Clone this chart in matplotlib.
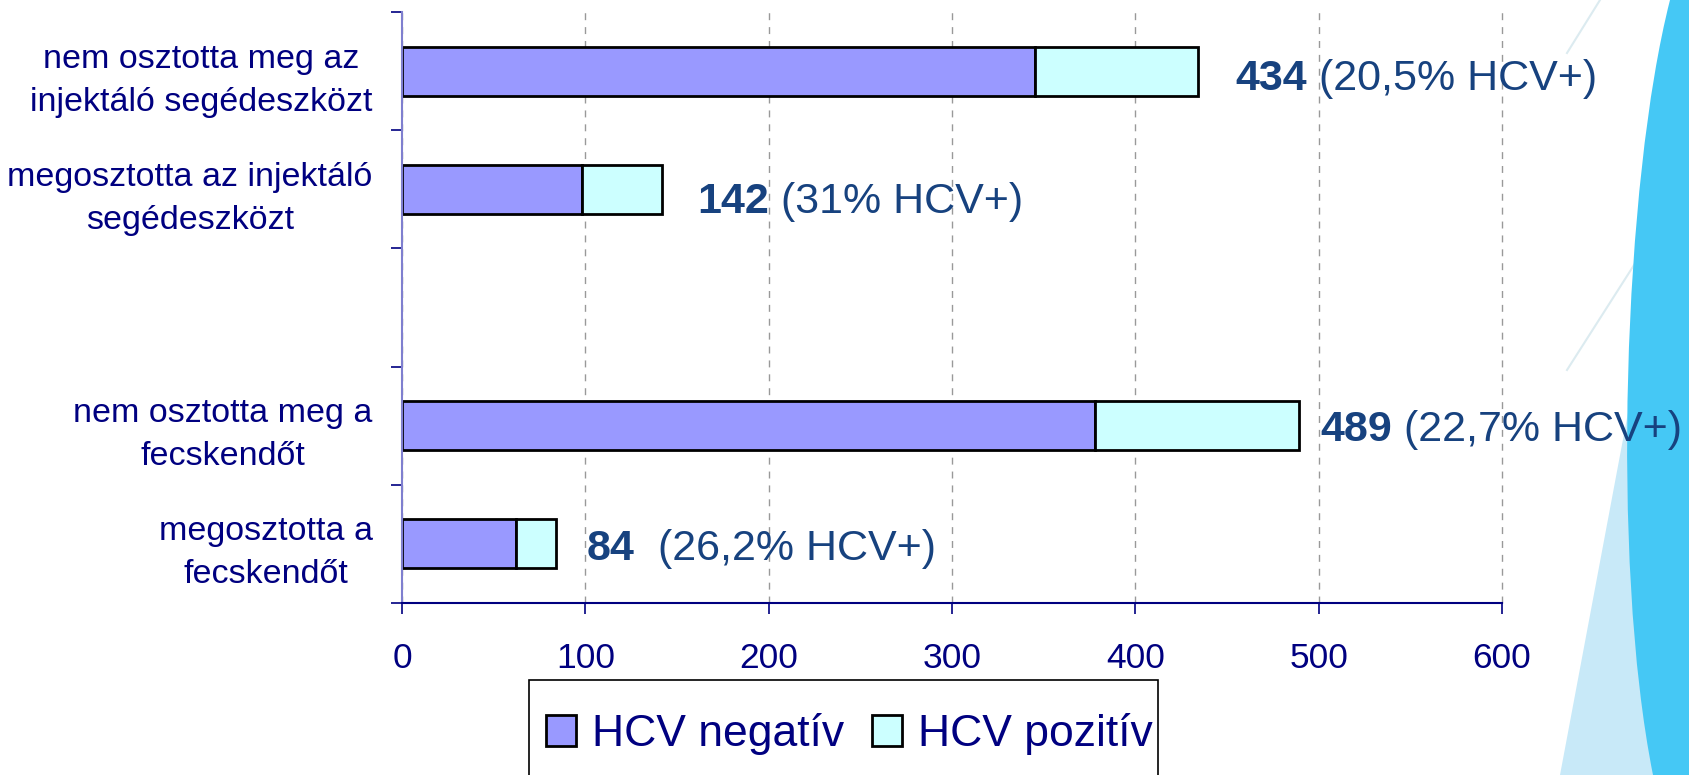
import numpy as np
import matplotlib
matplotlib.use('Agg')
import matplotlib.pyplot as plt
from matplotlib.patches import PathPatch, Polygon, Rectangle
from matplotlib.path import Path
from matplotlib.lines import Line2D

plt.rcParams['font.family'] = ['Liberation Sans', 'DejaVu Sans']

# adatok (felülről lefelé, az üres sor a két csoport közti rés)
categories = ["nem osztotta meg az\ninjektáló segédeszközt",
              "megosztotta az injektáló\nsegédeszközt",
              "",
              "nem osztotta meg a\nfecskendőt",
              "megosztotta a\nfecskendőt"]
hcv_neg = [345, 98, np.nan, 378, 62]
hcv_pos = [89, 44, np.nan, 111, 22]
totals = [434, 142, np.nan, 489, 84]
pct_labels = [" (20,5% HCV+)", " (31% HCV+)", "", " (22,7% HCV+)", "  (26,2% HCV+)"]
series_names = ["HCV negatív", "HCV pozitív"]
xticks = [0, 100, 200, 300, 400, 500, 600]

# címke eltolás pontban (a kézzel elhelyezett szövegdobozok miatt)
label_dx = [27, 25, 0, 16, 22]
label_dy = [-6, -9, 0, -3, -4]

NAVY = '#000080'
ANN = '#17427F'
W, H = 1689, 775

fig = plt.figure(figsize=(W / 100, H / 100), dpi=100)


def px(x, y):
    return (x / W, 1 - y / H)


# háttér díszítés jobb oldalon
light = Polygon([px(1636, 370), px(1560, 775), px(1689, 775), px(1689, 370)],
                closed=True, transform=fig.transFigure,
                facecolor='#C8E9F8', edgecolor='none', zorder=-2)
fig.add_artist(light)
verts = [px(1670, 0), px(1624, 180), px(1610, 560), px(1653, 775),
         px(1689, 775), px(1689, 0), px(1670, 0)]
codes = [Path.MOVETO, Path.CURVE4, Path.CURVE4, Path.CURVE4,
         Path.LINETO, Path.LINETO, Path.CLOSEPOLY]
fig.add_artist(PathPatch(Path(verts, codes), transform=fig.transFigure,
                         facecolor='#45C8F5', edgecolor='none', zorder=-1))
for (x0, y0), (x1, y1) in [((1567, 370), (1650, 240)), ((1567, 53), (1600, 0))]:
    a, b = px(x0, y0), px(x1, y1)
    fig.add_artist(Line2D([a[0], b[0]], [a[1], b[1]], transform=fig.transFigure,
                          color='#DCEBF0', lw=1.5, zorder=-3))

ax = fig.add_axes([402 / W, 1 - 603 / H, 1100 / W, 591 / H])
ax.patch.set_visible(False)

y = np.arange(len(categories))
neg = np.array(hcv_neg, dtype=float)
pos = np.array(hcv_pos, dtype=float)
ok = ~np.isnan(neg)
ax.barh(y[ok], neg[ok], height=0.415, color='#9999FF', edgecolor='black',
        linewidth=2, label=series_names[0])
ax.barh(y[ok], pos[ok], left=neg[ok], height=0.415, color='#CCFFFF',
        edgecolor='black', linewidth=2, label=series_names[1])

ax.set_xlim(0, 600)
ax.set_ylim(len(categories) - 0.5, -0.5)
ax.set_xticks(xticks)
ax.set_yticks(np.arange(-0.5, len(categories), 1))
ax.set_yticks(y, categories, minor=True)
ax.tick_params(axis='y', which='major', length=8, width=1.2, color=NAVY,
               labelleft=False)
ax.tick_params(axis='y', which='minor', length=0, pad=21, labelsize=24.5,
               labelcolor=NAVY)
for lbl in ax.get_yticklabels(minor=True):
    lbl.set_multialignment('center')
    lbl.set_linespacing(1.5)
ax.tick_params(axis='x', length=8, width=1.2, color=NAVY, labelsize=25.5,
               labelcolor=NAVY, pad=20)

ax.xaxis.grid(True, color='#999999', linestyle=(0, (5, 5)), linewidth=1)
for gl in ax.get_xgridlines():
    gl.set_clip_on(False)
ax.set_axisbelow(True)
for s in ['top', 'right']:
    ax.spines[s].set_visible(False)
ax.spines['left'].set_color('#7F7FCF')
ax.spines['left'].set_linewidth(1.5)
ax.spines['bottom'].set_color(NAVY)
ax.spines['bottom'].set_linewidth(1.5)

for yi, tot, pct, dx, dy in zip(y, totals, pct_labels, label_dx, label_dy):
    if np.isnan(tot):
        continue
    t1 = ax.annotate(str(int(tot)), xy=(tot, yi), xytext=(dx, dy),
                     textcoords='offset points', va='center', ha='left',
                     fontsize=31, fontweight='bold', color=ANN)
    ax.annotate(pct, xy=(1, 0), xycoords=t1, va='bottom', ha='left',
                fontsize=31, color=ANN)

# jelmagyarázat: a keret lelóg a kép aljáról
fig.add_artist(Rectangle(px(529, 790), 629 / W, 110 / H,
                         transform=fig.transFigure, facecolor='white',
                         edgecolor='black', linewidth=1.2, zorder=2))
leg = fig.legend(loc='center left', bbox_to_anchor=px(546, 734),
                 ncol=2, fontsize=32, frameon=False, labelcolor=NAVY,
                 handlelength=0.675, handleheight=0.675, handletextpad=0.36,
                 columnspacing=0.63, borderpad=0, borderaxespad=0)
leg.set_zorder(3)

fig.savefig('out.png', dpi=100)
